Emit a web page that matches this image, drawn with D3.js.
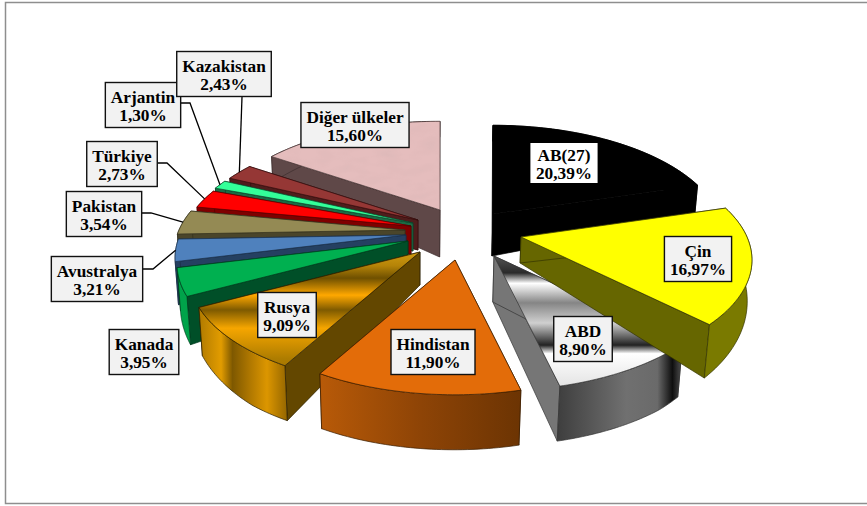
<!DOCTYPE html>
<html>
<head>
<meta charset="utf-8">
<script src="https://cdn.jsdelivr.net/npm/d3@7"></script>
<style>
  html, body { margin: 0; padding: 0; background: #fff; }
  text { font-family: "Liberation Serif", serif; font-weight: bold; font-size: 17.3px; fill: #000; }
</style>
</head>
<body>
<svg id="chart" width="867" height="506"></svg>
<script>
var names = ["AB(27)", "Çin", "ABD", "Hindistan", "Rusya", "Kanada", "Avustralya", "Pakistan", "Türkiye", "Arjantin", "Kazakistan", "Diğer ülkeler"];
var shares = [20.39, 16.97, 8.90, 11.90, 9.09, 3.95, 3.21, 3.54, 2.73, 1.30, 2.43, 15.60];
var shareLabels = ["20,39%", "16,97%", "8,90%", "11,90%", "9,09%", "3,95%", "3,21%", "3,54%", "2,73%", "1,30%", "2,43%", "15,60%"];

// layout
var center = [413, 228];
var explode = [[80, -14], [108, 9], [81, 28], [42, 32], [7, 24], [-5, 13], [-7, 7], [-8, 2], [-2, -2], [0, -5], [5, -8], [27, -18]];
var apexDepth = [42, 26, 46, 40, 33, 30, 28, 28, 28, 28, 30, 47];
var labelCenter = [[564, 163], [698, 259], [583, 339], [433, 352], [287, 315], [144, 352], [97, 279], [104, 214], [122, 164], [143, 105], [224, 74], [355, 125]];
var labelPlain = ["AB(27)"];
var leaderElbow = {"Avustralya": [153, 269], "Pakistan": [151, 213], "Türkiye": [167, 163], "Arjantin": [190, 103], "Kazakistan": [242, 97]};
// back to front
var drawOrder = [11, 10, 9, 8, 7, 6, 5, 4, 0, 2, 1, 3];

var topFill = ["#000000", "#FFFF00", "url(#abdTop)", "#E36C09", "url(#rusyaTop)", "#00B050", "#4F81BD", "#948A54", "#FF0000", "#33FF99", "#953735", "#E5BDBD"];
var wallFill = ["#000000", "#7A7A00", "url(#abdWall)", "url(#hindWall)", "url(#rusyaWall)", "#00A34A", "#254061", "#4A452A", "#7F0000", "#1A6B44", "#4F1D1C", "#5F4848"];
var sideFill = ["#000000", "#666600", "#767676", "#8A4506", "#634700", "#004F28", "#254061", "#4A452A", "#7F0000", "#1A6B44", "#4F1D1C", "#5F4848"];
var edgeColor = ["#000000", "#333300", "#333333", "#3a1c00", "#2a1e00", "#00391c", "#1b2f47", "#33301c", "#550000", "#10442b", "#330f0f", "#3d2e2e"];

var Sx = 226, Sy = 107, persp = 0.206;

var svg = d3.select("#chart");

// frame: the right edge runs off the page
svg.append("rect")
    .attr("x", 5.5).attr("y", 2.5)
    .attr("width", 880).attr("height", 501)
    .attr("fill", "#fff").attr("stroke", "#8E8E8E").attr("stroke-width", 1.5);

var defs = svg.append("defs");
function gradient(id, horizontal, stops) {
    var g = defs.append("linearGradient").attr("id", id)
        .attr("x1", 0).attr("y1", 0)
        .attr("x2", horizontal ? 1 : 0).attr("y2", horizontal ? 0 : 1);
    stops.forEach(function (s) {
        g.append("stop").attr("offset", s[0]).attr("stop-color", s[1]);
    });
}
gradient("rusyaTop", false, [[0, "#D09A10"], [0.12, "#B58408"], [0.23, "#6F5000"], [0.38, "#FFA800"], [0.51, "#7E5A00"], [0.67, "#F6A600"], [0.94, "#AD7C00"], [1, "#A87800"]]);
gradient("rusyaWall", true, [[0, "#B07A00"], [0.25, "#E29C00"], [0.38, "#7E5800"], [0.58, "#B07800"], [0.77, "#DC9600"], [1, "#946600"]]);
gradient("abdTop", false, [[0, "#555555"], [0.13, "#2A2A2A"], [0.21, "#FFFFFF"], [0.36, "#858585"], [0.515, "#D0D0D0"], [0.685, "#222222"], [0.75, "#FFFFFF"], [1, "#E4E4E4"]]);
gradient("abdWall", true, [[0, "#3E3E3E"], [0.55, "#707070"], [0.8, "#6A6A6A"], [0.92, "#0E0E0E"], [1, "#555555"]]);
gradient("hindWall", true, [[0, "#B85A08"], [0.5, "#8E4406"], [1, "#6C3403"]]);

// mottled pink of the last slice
var mottle = defs.append("filter").attr("id", "mottle")
    .attr("x", 0).attr("y", 0).attr("width", 1).attr("height", 1);
mottle.append("feTurbulence")
    .attr("type", "fractalNoise").attr("baseFrequency", "0.05 0.12")
    .attr("numOctaves", 2).attr("seed", 4).attr("result", "noise");
mottle.append("feColorMatrix").attr("in", "noise").attr("type", "matrix")
    .attr("values", "0 0 0 0 0.6  0 0 0 0 0.42  0 0 0 0 0.42  0.45 0 0 0 -0.17")
    .attr("result", "spots");
mottle.append("feComposite").attr("in", "spots").attr("in2", "SourceGraphic")
    .attr("operator", "in").attr("result", "clipped");
var merge = mottle.append("feMerge");
merge.append("feMergeNode").attr("in", "SourceGraphic");
merge.append("feMergeNode").attr("in", "clipped");

var pie = d3.pie().sort(null).value(function (d) { return d; });
var arcs = pie(shares);

function project(i, r, a) {
    var den = 1 + persp * r * Math.cos(a);
    return [
        center[0] + explode[i][0] + Sx * r * Math.sin(a) / den,
        center[1] + explode[i][1] - Sy * r * Math.cos(a) / den
    ];
}
// thickness shrinks strongly towards the back of the pie
function thickness(i, r, a) {
    var outer = Math.min(55, 38 - 22 * Math.cos(a));
    return apexDepth[i] * (1 - r) + outer * r;
}
// verticals lean a little towards the middle
function down(i, r, a) {
    var p = project(i, r, a);
    var d = thickness(i, r, a);
    return [p[0] + (center[0] - p[0]) * 0.017 * d / 52, p[1] + d];
}
function rimAngles(d) {
    return d3.range(0, 41).map(function (k) {
        return d.startAngle + (d.endAngle - d.startAngle) * k / 40;
    });
}
var line = d3.line();

function drawSlice(g, i) {
    var d = arcs[i];
    var angles = rimAngles(d);
    var rim = angles.map(function (a) { return project(i, 1, a); });
    var rimDown = angles.map(function (a) { return down(i, 1, a); });
    var apex = project(i, 0, 0);
    var apexDown = down(i, 0, 0);

    // end face, start face, outer wall, top: each one covers what it should
    [d.endAngle, d.startAngle].forEach(function (a) {
        g.append("path")
            .attr("d", line([apex, project(i, 1, a), down(i, 1, a), apexDown]) + "Z")
            .attr("fill", sideFill[i])
            .attr("stroke", edgeColor[i]).attr("stroke-width", 0.7);
    });
    g.append("path")
        .attr("d", line(rim.concat(rimDown.slice().reverse())) + "Z")
        .attr("fill", wallFill[i])
        .attr("stroke", edgeColor[i]).attr("stroke-width", 0.7);
    g.append("path")
        .attr("d", line([apex].concat(rim)) + "Z")
        .attr("fill", topFill[i])
        .attr("filter", names[i] === "Diğer ülkeler" ? "url(#mottle)" : null)
        .attr("stroke", edgeColor[i]).attr("stroke-width", 0.7);
}

var slices = svg.append("g").attr("class", "slices");
drawOrder.forEach(function (i) {
    drawSlice(slices.append("g").attr("class", "slice"), i);
});

// labels
var labels = svg.append("g").attr("class", "labels");
names.forEach(function (name, i) {
    var g = labels.append("g")
        .attr("transform", "translate(" + labelCenter[i][0] + "," + labelCenter[i][1] + ")");
    var box = g.append("rect");
    var t1 = g.append("text").attr("text-anchor", "middle").attr("y", -2.5).text(name);
    var t2 = g.append("text").attr("text-anchor", "middle").attr("y", 15.5).text(shareLabels[i]);
    var w = Math.max(t1.node().getComputedTextLength(), t2.node().getComputedTextLength()) + 11;
    var plain = labelPlain.indexOf(name) !== -1;
    box.attr("x", -w / 2).attr("y", plain ? -20 : -22.5)
        .attr("width", w).attr("height", plain ? 40 : 45)
        .attr("fill", plain ? "#fff" : "#F2F2F2")
        .attr("stroke", plain ? "none" : "#111")
        .attr("stroke-width", 1.4);
    var elbow = leaderElbow[name];
    if (elbow) {
        var mid = (arcs[i].startAngle + arcs[i].endAngle) / 2;
        var end = project(i, 1, mid);
        var start = name === "Kazakistan"
            ? [elbow[0], elbow[1]]
            : [labelCenter[i][0] + w / 2, elbow[1]];
        labels.insert("path", ":first-child")
            .attr("d", line([start, elbow, end]))
            .attr("fill", "none").attr("stroke", "#000").attr("stroke-width", 1.3);
    }
});
</script>
</body>
</html>
